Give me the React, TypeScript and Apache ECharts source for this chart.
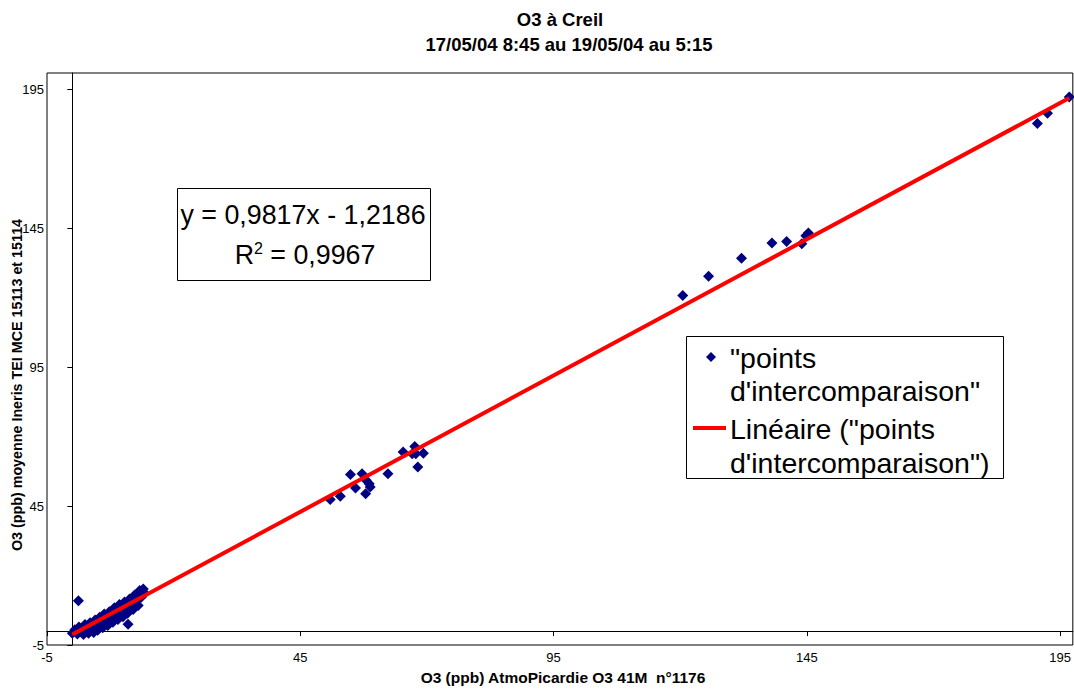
import React, { useEffect, useRef } from "react";
import * as echarts from "echarts";

const FONT = "'Liberation Sans', Arial, sans-serif";

const titleLines = ["O3 à Creil", "17/05/04 8:45 au 19/05/04 au 5:15"];
const xAxisName = "O3 (ppb) AtmoPicardie O3 41M  n°1176";
const yAxisName = "O3 (ppb) moyenne Ineris TEI MCE 15113 et 15114";
const xTicks = [-5, 45, 95, 145, 195];
const yTicks = [-5, 45, 95, 145, 195];
const seriesName = '"points d\'intercomparaison"';
const trendName = 'Linéaire ("points d\'intercomparaison")';
const slope = 0.9817;
const intercept = -1.2186;
const r2Text = "0,9967";

// measured points: [AtmoPicardie, moyenne Ineris]
const lowPoints: number[][] = [
  [0.0, -0.8], [0.5, 0.5], [1.0, -1.0], [1.3, 1.5], [1.8, 0.0], [2.2, -1.2], [2.5, 2.4],
  [2.8, 0.8], [3.2, -0.8], [3.5, 3.0], [3.8, 1.5], [4.2, -0.5], [4.5, 4.0], [4.8, 2.2],
  [5.0, 0.3], [5.4, 5.0], [5.7, 3.0], [6.0, 1.2], [6.3, 6.2], [6.6, 4.0], [7.0, 2.0],
  [7.3, 7.0], [7.6, 5.0], [8.0, 3.2], [8.3, 8.4], [8.6, 6.0], [9.0, 4.2], [9.3, 9.6],
  [9.6, 7.2], [10.0, 5.2], [10.3, 10.5], [10.6, 8.2], [10.9, 6.4], [11.0, 2.5],
  [11.3, 11.6], [11.6, 9.4], [12.0, 7.8], [12.3, 13.0], [12.6, 10.8], [13.0, 9.2],
  [13.3, 14.6], [13.6, 12.2], [14.0, 15.2], [14.3, 13.6], [1.2, 10.9],
];
const midPoints: number[][] = [
  [50.9, 47.4], [52.9, 48.6], [54.9, 56.4], [57.2, 56.7], [55.9, 51.5], [58.0, 54.3],
  [58.6, 53.1], [58.8, 51.9], [57.9, 49.5], [62.3, 56.7], [65.3, 64.5], [67.6, 66.5],
  [67.8, 63.9], [69.3, 64.1], [68.2, 59.1], [67.1, 63.9],
];
const highPoints: number[][] = [
  [120.5, 120.9], [125.6, 127.8], [132.1, 134.3], [138.1, 139.8], [141.0, 140.3],
  [144.0, 139.5], [144.8, 142.4], [145.3, 143.4], [190.5, 182.8], [192.5, 186.5],
  [196.8, 192.4],
];

export default function App() {
  const ref = useRef<HTMLDivElement>(null);
  useEffect(() => {
    document.body.style.margin = "0";
    const chart = echarts.init(ref.current!, null, { renderer: "svg" });
    const points = [...lowPoints, ...midPoints, ...highPoints];
    const xs = points.map((p) => p[0]);
    const xMin = Math.min(...xs);
    const xMax = Math.max(...xs);
    const trend = [
      [xMin, slope * xMin + intercept],
      [xMax, slope * xMax + intercept],
    ];
    const fmt = (v: number) => v.toFixed(4).replace(".", ",");
    const eq = `y = ${fmt(slope)}x - ${fmt(-intercept)}`;
    const legendFont = { fontSize: 28.5, fontFamily: FONT, fill: "#000" };

    chart.setOption({
      animation: false,
      backgroundColor: "#fff",
      grid: {
        left: 47, right: 1, top: 73, bottom: 44,
        show: true, borderColor: "#000", borderWidth: 1,
      },
      xAxis: [
        {
          type: "value", min: -5, max: 197.5, position: "bottom",
          axisLine: { show: true, onZero: true, onZeroAxisIndex: 0, lineStyle: { color: "#000", width: 1 } },
          axisTick: { show: true, customValues: xTicks, length: 5, lineStyle: { color: "#000" } },
          axisLabel: { show: false },
          splitLine: { show: false },
        },
        {
          type: "value", min: -5, max: 197.5, position: "bottom",
          axisLine: { show: false, onZero: false },
          axisTick: { show: false },
          axisLabel: { customValues: xTicks, color: "#000", fontSize: 13, fontFamily: FONT, margin: 6 },
          splitLine: { show: false },
        },
      ],
      yAxis: [
        {
          type: "value", min: -5, max: 201, position: "left",
          axisLine: { show: true, onZero: true, onZeroAxisIndex: 0, lineStyle: { color: "#000", width: 1 } },
          axisTick: { show: true, customValues: yTicks, length: 5, lineStyle: { color: "#000" } },
          axisLabel: { show: false },
          splitLine: { show: false },
        },
        {
          type: "value", min: -5, max: 201, position: "left",
          axisLine: { show: false, onZero: false },
          axisTick: { show: false },
          axisLabel: { customValues: yTicks, color: "#000", fontSize: 13, fontFamily: FONT, margin: 3 },
          splitLine: { show: false },
        },
      ],
      series: [
        {
          name: seriesName,
          type: "scatter",
          xAxisIndex: 0, yAxisIndex: 0,
          symbol: "diamond",
          symbolSize: 11,
          itemStyle: { color: "#000080", opacity: 1 },
          data: points,
          z: 2,
        },
        {
          name: trendName,
          type: "line",
          xAxisIndex: 0, yAxisIndex: 0,
          showSymbol: false,
          symbol: "none",
          lineStyle: { color: "#ff0000", width: 4 },
          data: trend,
          z: 3,
        },
      ],
      graphic: [
        { type: "text", x: 560, y: 19, style: { text: titleLines[0], fontSize: 18.5, fontWeight: "bold", fontFamily: FONT, fill: "#000", textAlign: "center", textVerticalAlign: "middle" } },
        { type: "text", x: 569, y: 44, style: { text: titleLines[1], fontSize: 18.5, fontWeight: "bold", fontFamily: FONT, fill: "#000", textAlign: "center", textVerticalAlign: "middle" } },
        { type: "text", x: 563, y: 677, style: { text: xAxisName, fontSize: 15.5, fontWeight: "bold", fontFamily: FONT, fill: "#000", textAlign: "center", textVerticalAlign: "middle" } },
        { type: "text", x: 17, y: 385, rotation: Math.PI / 2, style: { text: yAxisName, fontSize: 14.3, fontWeight: "bold", fontFamily: FONT, fill: "#000", textAlign: "center", textVerticalAlign: "middle" } },
        // equation box
        { type: "rect", shape: { x: 177.5, y: 188.5, width: 253, height: 92 }, style: { fill: "#fff", stroke: "#000", lineWidth: 1 }, z: 10 },
        { type: "text", x: 303, y: 215, z: 11, style: { text: eq, fontSize: 26.8, fontFamily: FONT, fill: "#000", textAlign: "center", textVerticalAlign: "middle" } },
        {
          type: "text", x: 305, y: 255, z: 11,
          style: {
            text: `{n|R}{s|2}{n| = ${r2Text}}`,
            textAlign: "center", textVerticalAlign: "middle",
            rich: {
              n: { fontSize: 26.8, fontFamily: FONT, fill: "#000", color: "#000", lineHeight: 30 },
              s: { fontSize: 16, fontFamily: FONT, fill: "#000", color: "#000", verticalAlign: "top", lineHeight: 30 },
            },
          },
        },
        // legend box
        { type: "rect", shape: { x: 686.5, y: 336.5, width: 317, height: 142 }, style: { fill: "#fff", stroke: "#000", lineWidth: 1 }, z: 10 },
        { type: "polygon", shape: { points: [[711, 352], [716, 357], [711, 362], [706, 357]] }, style: { fill: "#000080" }, z: 11 },
        { type: "text", x: 730, y: 358, z: 11, style: { text: '"points', ...legendFont, textVerticalAlign: "middle" } },
        { type: "text", x: 730, y: 391, z: 11, style: { text: "d'intercomparaison\"", ...legendFont, textVerticalAlign: "middle" } },
        { type: "line", shape: { x1: 693, y1: 428, x2: 726, y2: 428 }, style: { stroke: "#ff0000", lineWidth: 4 }, z: 11 },
        { type: "text", x: 730, y: 429, z: 11, style: { text: 'Linéaire ("points', ...legendFont, textVerticalAlign: "middle" } },
        { type: "text", x: 730, y: 463, z: 11, style: { text: "d'intercomparaison\")", ...legendFont, textVerticalAlign: "middle" } },
      ],
    });
    return () => chart.dispose();
  }, []);
  return <div ref={ref} style={{ width: 1074, height: 689 }} />;
}
